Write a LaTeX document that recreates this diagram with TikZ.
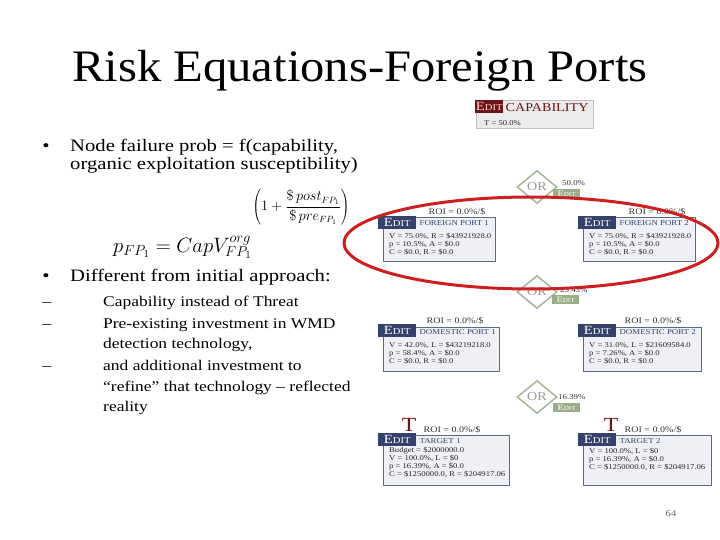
\documentclass[tikz,border=0pt]{standalone}
\usepackage{fontspec}
\setmainfont{Liberation Serif}[FakeStretch=1.18]
\newfontfamily\titlefont{Liberation Serif}[FakeStretch=1.08]
\usetikzlibrary{shapes.geometric,backgrounds}
\definecolor{navy}{HTML}{34426B}
\definecolor{boxborder}{HTML}{5A6A85}
\definecolor{boxfill}{HTML}{EEF0F5}
\definecolor{darkred}{HTML}{6E1414}
\definecolor{sage}{HTML}{9AAE8C}
\definecolor{orgreen}{HTML}{A9B8A0}
\definecolor{orgray}{HTML}{9A9A9A}
\definecolor{ellred}{HTML}{CC1F1F}
\definecolor{conncol}{HTML}{444444}
\newcommand\editBig{{\fontsize{12.5}{12.5}\selectfont E}{\fontsize{9}{9}\selectfont DIT}}
\newcommand\editSmall{{\fontsize{8.5}{8.5}\selectfont E}{\fontsize{6}{6}\selectfont DIT}}
\tikzset{
  txt/.style={font=\fontsize{17.5}{20}\selectfont, inner sep=0},
  subtxt/.style={font=\fontsize{14.8}{18}\selectfont, inner sep=0},
  portbox/.style={draw=boxborder, fill=boxfill, line width=1.2pt, inner sep=0},
  capbox/.style={draw=black!25, fill=black!8, line width=0.6pt, inner sep=0},
  navylbl/.style={fill=navy, text=white, inner sep=0, minimum width=38pt, minimum height=13pt},
  redlbl/.style={fill=darkred, text=white!85!red, inner sep=0, minimum width=28pt, minimum height=13pt},
  grnlbl/.style={fill=sage, text=white, inner sep=0, minimum width=27pt, minimum height=8.5pt},
  ptitle/.style={text=navy, font=\fontsize{7.5}{8}\selectfont, inner sep=0},
  captitle/.style={text=darkred, font=\fontsize{12}{12}\selectfont, inner sep=0},
  body/.style={font=\fontsize{7.3}{8.1}\selectfont, align=left, inner sep=0, text=black!85},
  roi/.style={font=\fontsize{8.5}{8.5}\selectfont, inner sep=0, text=black!80},
  pct/.style={font=\fontsize{7.5}{7.5}\selectfont, inner sep=0, text=black!80},
  ordia/.style={diamond, draw=orgreen, line width=1.6pt, fill=white, minimum width=40pt, minimum height=33pt, inner sep=0, text=orgray, font=\fontsize{12}{12}\selectfont},
  conn/.style={draw=conncol, line width=0.8pt},
  bigT/.style={text=darkred, font=\fontsize{20}{20}\selectfont, inner sep=0},
}
\begin{document}
\begin{tikzpicture}[x=1pt,y=-1pt]
\path[use as bounding box, fill=white] (0,0) rectangle (720,540);

% title
\node[font=\titlefont\fontsize{45}{45}\selectfont, inner sep=0] (title) at (360,71) {Risk Equations-Foreign Ports};

% bullets
\node[txt, anchor=base] (bul1) at (46,152) {\textbullet};
\node[txt, anchor=base west] (b1a) at (70,152) {Node failure prob = f(capability,};
\node[txt, anchor=base west] (b1b) at (70,170) {organic exploitation susceptibility)};
\node[inner sep=0, anchor=base west, font=\fontsize{21}{21}\selectfont] (f1) at (113,252) {$p_{FP_1} = CapV_{FP_1}^{org}$};
\node[inner sep=0, font=\fontsize{13.5}{13.5}\selectfont] (f2) at (301,207) {$\left(1 + {\displaystyle\frac{\$\,post_{FP_1}}{\$\,pre_{FP_1}}}\right)$};
\node[txt, anchor=base] (bul2) at (46,281) {\textbullet};
\node[txt, anchor=base west] (b2) at (70,281) {Different from initial approach:};
\node[subtxt, anchor=base] (d1) at (47,306) {--};
\node[subtxt, anchor=base west] (s1) at (103,306) {Capability instead of Threat};
\node[subtxt, anchor=base] (d2) at (47,328) {--};
\node[subtxt, anchor=base west] (s2) at (103,328) {Pre-existing investment in WMD};
\node[subtxt, anchor=base west] (s2b) at (103,348) {detection technology,};
\node[subtxt, anchor=base] (d3) at (47,370) {--};
\node[subtxt, anchor=base west] (s3) at (103,370) {and additional investment to};
\node[subtxt, anchor=base west] (s3b) at (103,391) {``refine'' that technology -- reflected};
\node[subtxt, anchor=base west] (s3c) at (103,411) {reality};

% capability
\node[capbox, minimum width=117pt, minimum height=28pt, anchor=north west] (cap) at (476,100) {};
\node[redlbl, anchor=north west] (capl) at (475,100) {\editBig};
\node[captitle, anchor=west] (capt) at ([xshift=2pt,yshift=-1pt]capl.east) {CAPABILITY};
\node[body, anchor=base west] (capv) at (484,126) {T = 50.0\%};

% OR gates
\node[ordia] (or1) at (537,187) {OR};
\node[pct, anchor=base west] (or1p) at (562,186) {50.0\%};
\node[grnlbl, anchor=north west] (or1e) at (553,189) {\editSmall};
\node[ordia] (or2) at (537,292) {OR};
\node[pct, anchor=base west] (or2p) at (560,292) {23.43\%};
\node[grnlbl, anchor=north west] (or2e) at (552,295) {\editSmall};
\node[ordia] (or3) at (537,397) {OR};
\node[pct, anchor=base west] (or3p) at (558,399) {16.39\%};
\node[grnlbl, anchor=north west] (or3e) at (553,403) {\editSmall};

% foreign ports
\node[portbox, minimum width=112pt, minimum height=44pt, anchor=north west] (fp1) at (383,217) {};
\node[navylbl, anchor=north west] (fp1l) at (378,216) {\editBig};
\node[ptitle, anchor=west] (fp1t) at ([xshift=3pt]fp1l.east) {FOREIGN PORT 1};
\node[body, anchor=north west] (fp1b) at (389,233) {V = 75.0\%, R = \$43921928.0\\p = 10.5\%, A = \$0.0\\C = \$0.0, R = \$0.0};
\node[roi] (fp1r) at (457,212) {ROI = 0.0\%/\$};

\node[portbox, minimum width=112pt, minimum height=44pt, anchor=north west] (fp2) at (583,217) {};
\node[navylbl, anchor=north west] (fp2l) at (578,216) {\editBig};
\node[ptitle, anchor=west] (fp2t) at ([xshift=3pt]fp2l.east) {FOREIGN PORT 2};
\node[body, anchor=north west] (fp2b) at (589,233) {V = 75.0\%, R = \$43921928.0\\p = 10.5\%, A = \$0.0\\C = \$0.0, R = \$0.0};
\node[roi] (fp2r) at (657,212) {ROI = 0.0\%/\$};

% domestic ports
\node[portbox, minimum width=116pt, minimum height=44pt, anchor=north west] (dp1) at (383,327) {};
\node[navylbl, anchor=north west] (dp1l) at (378,324) {\editBig};
\node[ptitle, anchor=west] (dp1t) at ([xshift=3pt,yshift=-1pt]dp1l.east) {DOMESTIC PORT 1};
\node[body, anchor=north west] (dp1b) at (389,342) {V = 42.0\%, L = \$43219218.0\\p = 58.4\%, A = \$0.0\\C = \$0.0, R = \$0.0};
\node[roi] (dp1r) at (455,321) {ROI = 0.0\%/\$};

\node[portbox, minimum width=118pt, minimum height=44pt, anchor=north west] (dp2) at (583,327) {};
\node[navylbl, anchor=north west] (dp2l) at (578,324) {\editBig};
\node[ptitle, anchor=west] (dp2t) at ([xshift=3pt,yshift=-1pt]dp2l.east) {DOMESTIC PORT 2};
\node[body, anchor=north west] (dp2b) at (589,342) {V = 31.0\%, L = \$21609584.0\\p = 7.26\%, A = \$0.0\\C = \$0.0, R = \$0.0};
\node[roi] (dp2r) at (653,321) {ROI = 0.0\%/\$};

% targets
\node[portbox, minimum width=126pt, minimum height=50pt, anchor=north west] (t1) at (383,435) {};
\node[navylbl, anchor=north west] (t1l) at (378,433) {\editBig};
\node[ptitle, anchor=west] (t1t) at ([xshift=3pt,yshift=-1pt]t1l.east) {TARGET 1};
\node[body, anchor=north west] (t1b) at (389,447) {Budget = \$2000000.0\\V = 100.0\%, L = \$0\\p = 16.39\%, A = \$0.0\\C = \$1250000.0, R = \$204917.06};
\node[bigT] (t1T) at (409,425) {T};
\node[roi] (t1r) at (452,430) {ROI = 0.0\%/\$};

\node[portbox, minimum width=128pt, minimum height=50pt, anchor=north west] (t2) at (583,435) {};
\node[navylbl, anchor=north west] (t2l) at (578,433) {\editBig};
\node[ptitle, anchor=west] (t2t) at ([xshift=3pt,yshift=-1pt]t2l.east) {TARGET 2};
\node[body, anchor=north west] (t2b) at (589,448) {V = 100.0\%, L = \$0\\p = 16.39\%, A = \$0.0\\C = \$1250000.0, R = \$204917.06};
\node[bigT] (t2T) at (611,425) {T};
\node[roi] (t2r) at (653,430) {ROI = 0.0\%/\$};

% connectors
\begin{scope}[on background layer]
\draw[conn] (or1.north |- cap.south) -- (or1.north);
\draw[conn] (or1.center) -- ([xshift=6pt,yshift=3pt]fp1.north east);
\draw[conn] (or1.center) -- (fp2.north west);
\draw[conn] ([xshift=6pt]fp1.south east) -- (or2.center);
\draw[conn] (fp2.south west) -- (or2.center);
\draw[conn] (or2.center) -- ([xshift=4pt,yshift=3pt]dp1.north east);
\draw[conn] (or2.center) -- (dp2.north west);
\draw[conn] ([xshift=4pt]dp1.south east) -- (or3.center);
\draw[conn] (dp2.south west) -- (or3.center);
\draw[conn] (or3.center) -- ([xshift=-14pt]t1.north east);
\draw[conn] (or3.center) -- (t2.north west);
\end{scope}

% red ellipse
\draw[ellred, line width=3pt] (531,243) ellipse [x radius=187, y radius=46];

% page number
\node[font=\fontsize{9}{9}\selectfont, text=black!60, inner sep=0] (pg) at (671,514) {64};
\end{tikzpicture}
\end{document}
